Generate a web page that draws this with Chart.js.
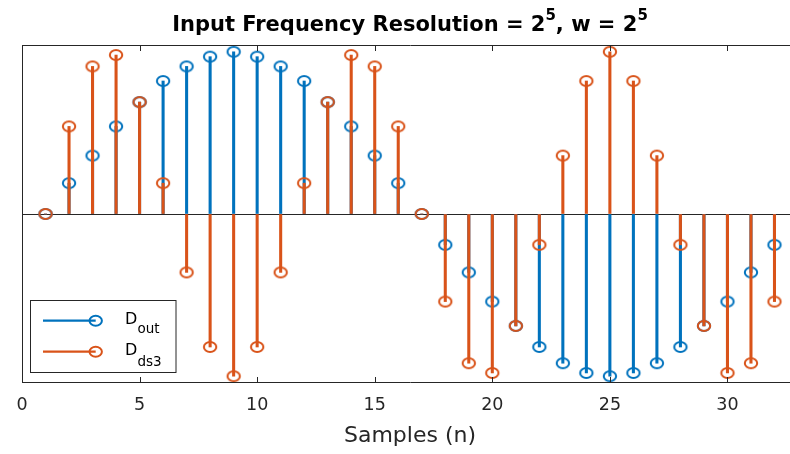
<!DOCTYPE html>
<html>
<head>
<meta charset="utf-8">
<script src="https://cdn.jsdelivr.net/npm/chart.js@4.4.1/dist/chart.umd.min.js"></script>
<style>
  html, body { margin: 0; padding: 0; background: #fff; overflow: hidden; }
  #wrap { position: relative; width: 790px; height: 454px; overflow: hidden; background: #fff; }
  #c { position: absolute; left: 0; top: 0; width: 800px; height: 454px; }
  #overlay { position: absolute; left: 0; top: 0; pointer-events: none; }
</style>
</head>
<body>
<div id="wrap">
  <canvas id="c" width="800" height="454"></canvas>
  <svg id="overlay" width="790" height="454" xmlns="http://www.w3.org/2000/svg" font-family="DejaVu Sans, Liberation Sans, sans-serif">
    <text x="410" y="31" text-anchor="middle" font-weight="bold" font-size="21" fill="#000">Input Frequency Resolution = 2<tspan font-size="15" dy="-11.5">5</tspan><tspan dy="11.5">, w = 2</tspan><tspan font-size="15" dy="-11.5">5</tspan></text>
    <g id="legend">
      <rect x="30.5" y="300.5" width="145.5" height="72" fill="#fff" stroke="#262626" stroke-width="1"/>
      <line x1="43" y1="320.7" x2="95.7" y2="320.7" stroke="#0072BD" stroke-width="2.2"/>
      <ellipse cx="95.7" cy="320.7" rx="6.2" ry="5" fill="none" stroke="#0072BD" stroke-width="2"/>
      <line x1="43" y1="351.7" x2="95.7" y2="351.7" stroke="#D95319" stroke-width="2.2"/>
      <ellipse cx="95.7" cy="351.7" rx="6.2" ry="5" fill="none" stroke="#D95319" stroke-width="2"/>
      <text x="125" y="324.3" font-size="16" fill="#000">D<tspan x="137.5" y="332.7" font-size="13.5">out</tspan></text>
      <text x="125" y="355" font-size="16" fill="#000">D<tspan x="137.5" y="366" font-size="13.5">ds3</tspan></text>
    </g>
  </svg>
</div>
<script>
// ---- data ----
const samples = [1,2,3,4,5,6,7,8,9,10,11,12,13,14,15,16,17,18,19,20,21,22,23,24,25,26,27,28,29,30,31,32];
const dOut = [0, 0.19, 0.36, 0.54, 0.69, 0.82, 0.91, 0.97, 1.00, 0.97, 0.91, 0.82, 0.69, 0.54, 0.36, 0.19,
              0, -0.19, -0.36, -0.54, -0.69, -0.82, -0.92, -0.98, -1.00, -0.98, -0.92, -0.82, -0.69, -0.54, -0.36, -0.19];
const dDs3 = [0, 0.54, 0.91, 0.98, 0.69, 0.19, -0.36, -0.82, -1.00, -0.82, -0.36, 0.19, 0.69, 0.98, 0.91, 0.54,
              0, -0.54, -0.92, -0.98, -0.69, -0.19, 0.36, 0.82, 1.00, 0.82, 0.36, -0.19, -0.69, -0.98, -0.92, -0.54];
const xTicks = [0, 5, 10, 15, 20, 25, 30];
const xLabel = 'Samples (n)';

const BLUE = '#0072BD';
const ORANGE = '#D95319';
const AXIS = '#262626';

function makeMarker(color) {
  const c = document.createElement('canvas');
  c.width = 18; c.height = 14;
  const g = c.getContext('2d');
  g.strokeStyle = color;
  g.lineWidth = 2;
  g.beginPath();
  g.ellipse(9, 7, 6.2, 5, 0, 0, Math.PI * 2);
  g.stroke();
  return c;
}

const axesBox = {
  id: 'axesBox',
  afterDatasetsDraw(chart) {
    const { ctx, chartArea: a, scales } = chart;
    ctx.save();
    ctx.strokeStyle = AXIS;
    ctx.lineWidth = 1;
    ctx.beginPath();
    ctx.rect(Math.round(a.left) + 0.5, Math.round(a.top) + 0.5,
             Math.round(a.right) - Math.round(a.left), Math.round(a.bottom) - Math.round(a.top) - 1);
    ctx.stroke();
    const L = 6;
    ctx.beginPath();
    for (const t of scales.x.ticks) {
      const px = Math.round(scales.x.getPixelForValue(t.value)) + 0.5;
      ctx.moveTo(px, a.bottom); ctx.lineTo(px, a.bottom - L);
      ctx.moveTo(px, a.top); ctx.lineTo(px, a.top + L);
    }
    ctx.stroke();
    ctx.restore();
  }
};

Chart.defaults.font.family = 'DejaVu Sans';

new Chart(document.getElementById('c'), {
  type: 'scatter',
  data: {
    datasets: [
      { type: 'bar', label: 'D_out stem', data: samples.map((n, i) => ({ x: n, y: [0, dOut[i]] })),
        backgroundColor: BLUE, borderWidth: 0, barThickness: 2.4, grouped: false, order: 4 },
      { type: 'scatter', label: 'D_out', data: samples.map((n, i) => ({ x: n, y: dOut[i] })),
        pointStyle: makeMarker(BLUE), pointRadius: 6, order: 3 },
      { type: 'bar', label: 'D_ds3 stem', data: samples.map((n, i) => ({ x: n, y: [0, dDs3[i]] })),
        backgroundColor: ORANGE, borderWidth: 0, barThickness: 2.4, grouped: false, order: 2 },
      { type: 'scatter', label: 'D_ds3', data: samples.map((n, i) => ({ x: n, y: dDs3[i] })),
        pointStyle: makeMarker(ORANGE), pointRadius: 6, order: 1 }
    ]
  },
  options: {
    responsive: false,
    animation: false,
    devicePixelRatio: 1,
    events: [],
    layout: { autoPadding: false, padding: { top: 45, right: 2, bottom: 0, left: 0 } },
    plugins: { legend: { display: false }, tooltip: { enabled: false }, title: { display: false } },
    scales: {
      x: {
        type: 'linear', min: 0, max: 33, offset: false,
        afterBuildTicks: s => { s.ticks = xTicks.map(v => ({ value: v })); },
        afterFit: s => { s.height = 71; s.paddingLeft = 0; s.paddingRight = 0; },
        grid: { display: false, drawTicks: false, offset: false },
        border: { display: false },
        ticks: { color: AXIS, font: { size: 17.5 }, padding: 12, maxRotation: 0, autoSkip: false },
        title: { display: true, text: xLabel, color: AXIS, font: { size: 22 }, padding: { top: 0, bottom: 5 } }
      },
      y: {
        type: 'linear', min: -1.042, max: 1.042,
        afterBuildTicks: s => { s.ticks = [{ value: 0 }]; },
        afterFit: s => { s.width = 22; s.paddingTop = 0; s.paddingBottom = 0; },
        grid: { color: AXIS, lineWidth: 1, drawTicks: false },
        border: { display: false },
        ticks: { display: false }
      }
    }
  },
  plugins: [axesBox]
});
</script>
</body>
</html>
